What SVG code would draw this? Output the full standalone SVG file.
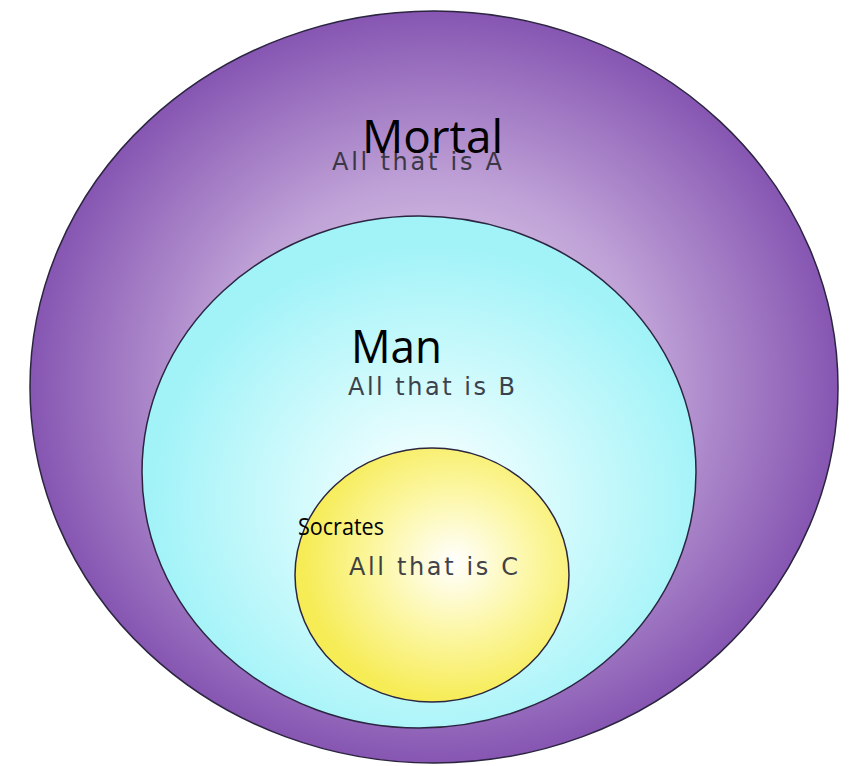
<svg xmlns="http://www.w3.org/2000/svg" width="850" height="766" viewBox="0 0 850 766">
<defs>
<radialGradient id="gA" cx="0.5" cy="0.5" r="0.5">
<stop offset="0" stop-color="#ece4f3"/>
<stop offset="0.55" stop-color="#bea0d6"/>
<stop offset="1" stop-color="#8656b2"/>
</radialGradient>
<radialGradient id="gB" cx="0.52" cy="0.56" r="0.5">
<stop offset="0" stop-color="#ffffff"/>
<stop offset="0.5" stop-color="#d0fafc"/>
<stop offset="1" stop-color="#a2f3f8"/>
</radialGradient>
<radialGradient id="gC" cx="0.58" cy="0.45" r="0.55">
<stop offset="0" stop-color="#ffffff"/>
<stop offset="0.5" stop-color="#fcf7a6"/>
<stop offset="1" stop-color="#f6ec56"/>
</radialGradient>
</defs>
<style>
.ring{stroke:#2b2540;stroke-width:1.5}
.big{font-family:"Open Sans","Noto Sans",sans-serif;fill:#000}
.hand{font-family:"DejaVu Sans","Liberation Sans",sans-serif;fill:#2e2e38;opacity:0.9}
</style>
<g id="mortal">
<ellipse class="ring" cx="434" cy="387" rx="404" ry="376" fill="url(#gA)"/>
<text class="hand" x="332" y="170" font-size="24" textLength="170" fill="#3a2c4e">All that is A</text>
<text class="big" x="362" y="153" font-size="46" textLength="141" lengthAdjust="spacingAndGlyphs">Mortal</text>
</g>
<g id="man">
<ellipse class="ring" cx="419" cy="472" rx="277" ry="256" fill="url(#gB)"/>
<text class="big" x="351" y="363" font-size="46" textLength="91" lengthAdjust="spacingAndGlyphs">Man</text>
<text class="hand" x="348" y="395" font-size="24" textLength="167">All that is B</text>
</g>
<g id="socrates">
<ellipse class="ring" cx="432" cy="575" rx="137" ry="127" fill="url(#gC)"/>
<text class="big" x="298" y="535" font-size="23" textLength="86" lengthAdjust="spacingAndGlyphs">Socrates</text>
<text class="hand" x="349" y="575" font-size="24" textLength="169">All that is C</text>
</g>
<g id="connectors"/>
</svg>
